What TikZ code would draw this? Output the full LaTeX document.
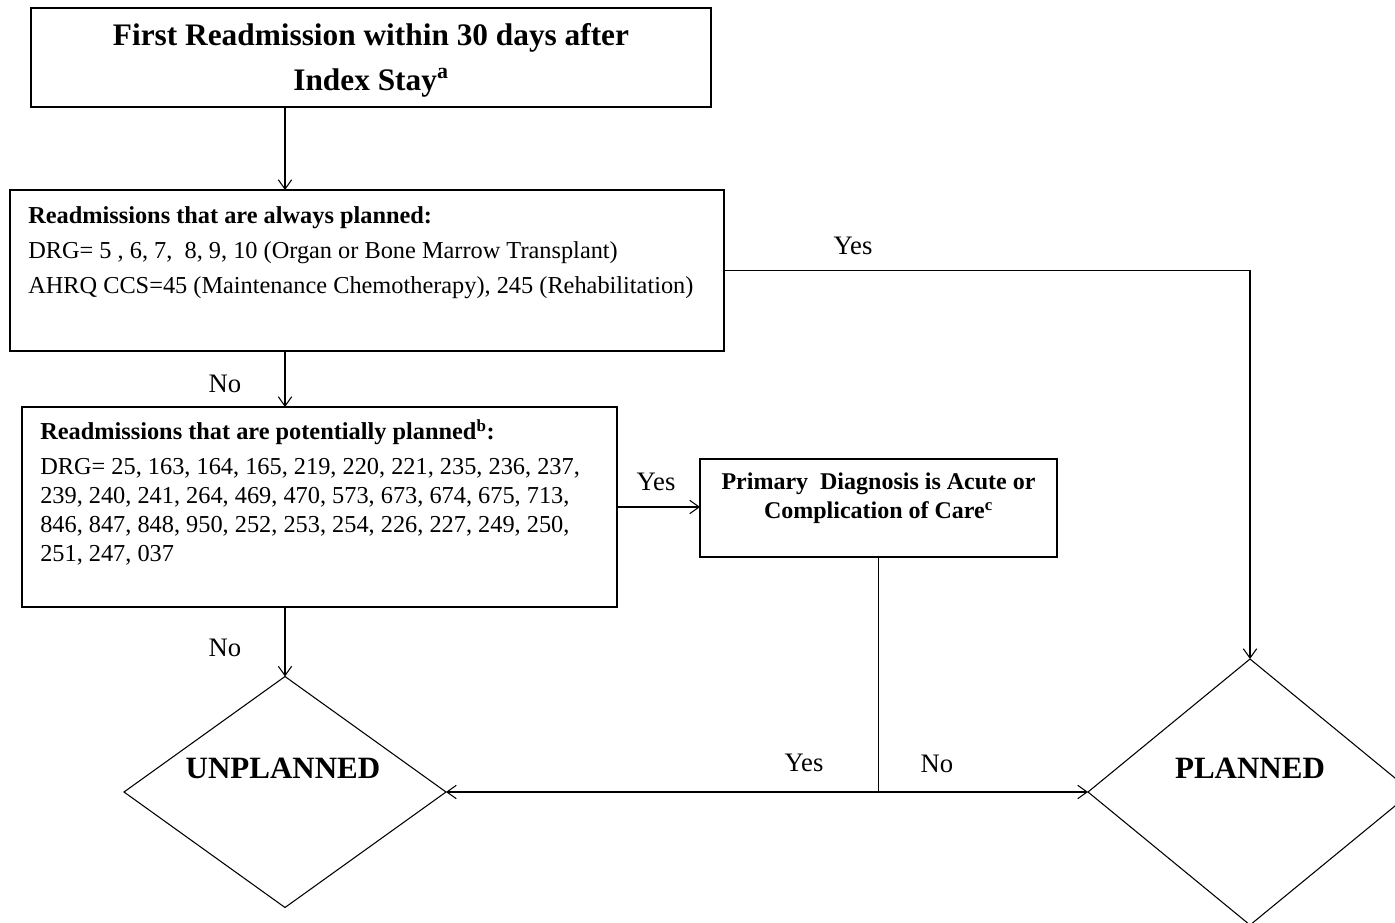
\documentclass[tikz,border=0pt]{standalone}
\usepackage{fontspec}
\setmainfont{Liberation Serif}
\usetikzlibrary{arrows.meta,shapes.geometric}
\begin{document}
\begin{tikzpicture}[x=0.75pt,y=-0.75pt,
  box/.style={draw,line width=0.8pt,inner sep=0pt,outer sep=0pt},
  decision/.style={draw,diamond,line width=0.8pt,inner sep=0pt,outer sep=0pt},
  flow/.style={line width=0.8pt,-{Straight Barb[length=7pt,width=10pt]}},
  plain/.style={line width=0.8pt},
  lbl/.style={font=\fontsize{20}{24}\selectfont,inner sep=0pt},
  body/.style={font=\fontsize{18.25}{26.25}\selectfont,align=left,inner sep=0pt,anchor=north west},
  verdict/.style={font=\bfseries\fontsize{23.25}{28}\selectfont,inner sep=0pt},
]
% page
\fill[white] (0,0) rectangle (1395,923);
\clip (0,0) rectangle (1395,923);
\coordinate (spine) at (285,0);

% boxes
\node[box,minimum width=510pt,minimum height=74.25pt] (start) at (371,57.5) {};
\node[align=center,inner sep=0pt,font=\bfseries\fontsize{23.5}{33.75}\selectfont]
  (starttext) at (371,60.5)
  {First Readmission within 30 days after\\Index Stay\textsuperscript{a}};

\node[box,minimum width=535.5pt,minimum height=120.75pt] (always) at (367,270.5) {};
\node[body] (alwaystext) at (28,206)
  {\textbf{Readmissions that are always planned:}\\
   DRG= 5 , 6, 7,\ \ 8, 9, 10 (Organ or Bone Marrow Transplant)\\
   AHRQ CCS=45 (Maintenance Chemotherapy), 245 (Rehabilitation)};

\node[box,minimum width=446.25pt,minimum height=150pt] (potential) at (319.5,507) {};
\node[body,font=\fontsize{18.25}{21.75}\selectfont] (potentialtext) at (40,419)
  {\textbf{Readmissions that are potentially planned\textsuperscript{b}:}\\[4.5pt]
   DRG= 25, 163, 164, 165, 219, 220, 221, 235, 236, 237,\\
   239, 240, 241, 264, 469, 470, 573, 673, 674, 675, 713,\\
   846, 847, 848, 950, 252, 253, 254, 226, 227, 249, 250,\\
   251, 247, 037};

\node[box,minimum width=267.75pt,minimum height=73.5pt] (acute) at (878.5,508) {};
\node[font=\bfseries\fontsize{18}{21.75}\selectfont,align=center,inner sep=0pt,anchor=north]
  (acutetext) at (878.5,473)
  {Primary\ \ Diagnosis is Acute or\\Complication of Care\textsuperscript{c}};

% outcomes
\node[decision,minimum width=241.5pt,minimum height=173.25pt] (unplanned) at (285,792) {};
\node[verdict] (unplannedtext) at (283,768) {UNPLANNED};
\node[decision,minimum width=243pt,minimum height=199.5pt] (planned) at (1250,792) {};
\node[verdict] (plannedtext) at (1250,768) {PLANNED};

% connectors
\draw[flow] (start.south -| spine) -- (always.north -| spine);
\draw[flow] (always.south -| spine) -- (potential.north -| spine);
\draw[flow] (potential.south -| spine) -- (unplanned.north);
\draw[flow] (always.east) -| (planned.north);
\draw[flow] (potential.east) -- (potential.east -| acute.west);
\coordinate (split) at (acute.south |- unplanned.east);
\draw[plain] (acute.south) -- (split);
\draw[flow] (split) -- (unplanned.east);
\draw[flow] (split) -- (planned.west);

% branch labels
\node[lbl] (yes1) at (853,246) {Yes};
\node[lbl] (no1) at (225,384) {No};
\node[lbl] (yes2) at (656,482) {Yes};
\node[lbl] (no2) at (225,648) {No};
\node[lbl] (yes3) at (804,763) {Yes};
\node[lbl] (no3) at (937,764) {No};
\end{tikzpicture}
\end{document}
